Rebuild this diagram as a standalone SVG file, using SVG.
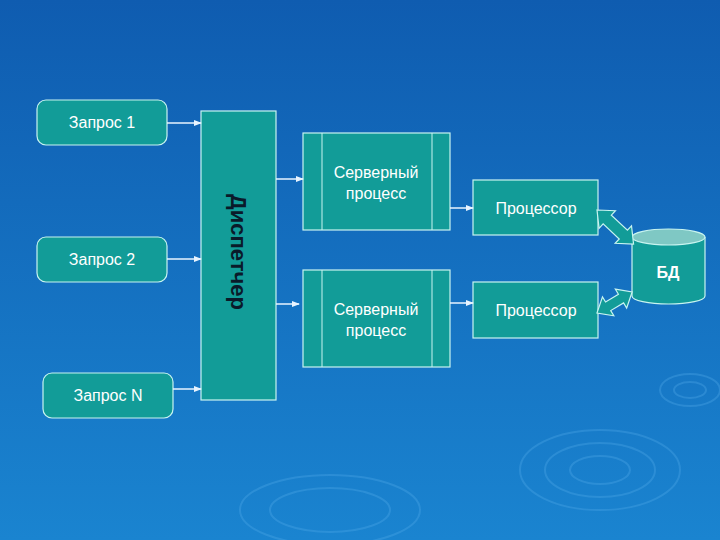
<svg xmlns="http://www.w3.org/2000/svg" width="720" height="540" viewBox="0 0 720 540">
<defs>
<linearGradient id="bg" x1="0" y1="0" x2="0" y2="1"><stop offset="0" stop-color="#0f5cb0"/><stop offset="1" stop-color="#1a84d0"/></linearGradient>
<marker id="ah" markerWidth="8" markerHeight="8" refX="7" refY="4" orient="auto" markerUnits="userSpaceOnUse"><path d="M0,1 L8,4 L0,7 Z" fill="#e8f4ff"/></marker>
</defs>
<style>
.n{fill:#129c98;stroke:#c8f4f0;stroke-width:1.2}
.t{font-family:"Liberation Sans",Arial,sans-serif;font-size:16px;fill:#ffffff;text-anchor:middle}
.c{stroke:#e8f4ff;stroke-width:1.5;fill:none;marker-end:url(#ah)}
.rp{fill:none;stroke:#4fa8e8;stroke-opacity:0.35;stroke-width:2}
</style>
<rect width="720" height="540" fill="url(#bg)"/>
<g>
<ellipse class="rp" cx="600" cy="470" rx="80" ry="40"/><ellipse class="rp" cx="600" cy="470" rx="55" ry="27"/><ellipse class="rp" cx="600" cy="470" rx="30" ry="14"/>
<ellipse class="rp" cx="330" cy="510" rx="90" ry="35"/><ellipse class="rp" cx="330" cy="510" rx="60" ry="22"/>
<ellipse class="rp" cx="690" cy="390" rx="30" ry="16"/><ellipse class="rp" cx="690" cy="390" rx="16" ry="8"/>
</g>
<g id="zapros1"><rect class="n" x="37" y="100" width="130" height="45" rx="9"/><text class="t" x="102" y="128">Запрос 1</text></g>
<g id="zapros2"><rect class="n" x="37" y="237" width="130" height="45" rx="9"/><text class="t" x="102" y="265">Запрос 2</text></g>
<g id="zaprosN"><rect class="n" x="43" y="373" width="130" height="45" rx="9"/><text class="t" x="108" y="401">Запрос N</text></g>
<g id="dispatcher"><rect class="n" x="201" y="111" width="75" height="289"/><text transform="translate(231,252) rotate(90)" style="font-family:'Liberation Sans',Arial,sans-serif;font-size:22px;font-weight:bold;fill:#0a1a2a;text-anchor:middle">Диспетчер</text></g>
<g id="server1"><rect class="n" x="303" y="133" width="147" height="97"/><line x1="322" y1="133" x2="322" y2="230" stroke="#c8f4f0"/><line x1="432" y1="133" x2="432" y2="230" stroke="#c8f4f0"/><text class="t" x="376" y="178">Серверный</text><text class="t" x="376" y="199">процесс</text></g>
<g id="server2"><rect class="n" x="303" y="270" width="147" height="97"/><line x1="322" y1="270" x2="322" y2="367" stroke="#c8f4f0"/><line x1="432" y1="270" x2="432" y2="367" stroke="#c8f4f0"/><text class="t" x="376" y="315">Серверный</text><text class="t" x="376" y="336">процесс</text></g>
<g id="proc1"><rect class="n" x="473" y="180" width="125" height="55"/><text class="t" x="536" y="214">Процессор</text></g>
<g id="proc2"><rect class="n" x="473" y="282" width="125" height="56"/><text class="t" x="536" y="316">Процессор</text></g>
<g id="bd"><path class="n" d="M632,237 L632,296 A36.5,8 0 0 0 705,296 L705,237"/><ellipse cx="668.5" cy="237" rx="36.5" ry="8" fill="#7fc8c4" stroke="#c8f4f0" stroke-width="1.2"/><text class="t" x="668" y="278" style="font-weight:bold">БД</text></g>
<g id="connectors">
<line class="c" x1="167" y1="123" x2="201" y2="123"/>
<line class="c" x1="167" y1="259" x2="201" y2="259"/>
<line class="c" x1="173" y1="389" x2="201" y2="389"/>
<line class="c" x1="276" y1="179" x2="303" y2="179"/>
<line class="c" x1="276" y1="304" x2="299" y2="304"/>
<line class="c" x1="450" y1="208" x2="473" y2="208"/>
<line class="c" x1="450" y1="303" x2="473" y2="303"/>
<polygon class="n" transform="translate(597,210) rotate(43)" points="0,0 14,-12 14,-6 36,-6 36,-12 50,0 36,12 36,6 14,6 14,12"/>
<polygon class="n" transform="translate(597,313) rotate(-31)" points="0,0 13,-11 13,-5 28,-5 28,-11 41,0 28,11 28,5 13,5 13,11"/>
</g>
</svg>
